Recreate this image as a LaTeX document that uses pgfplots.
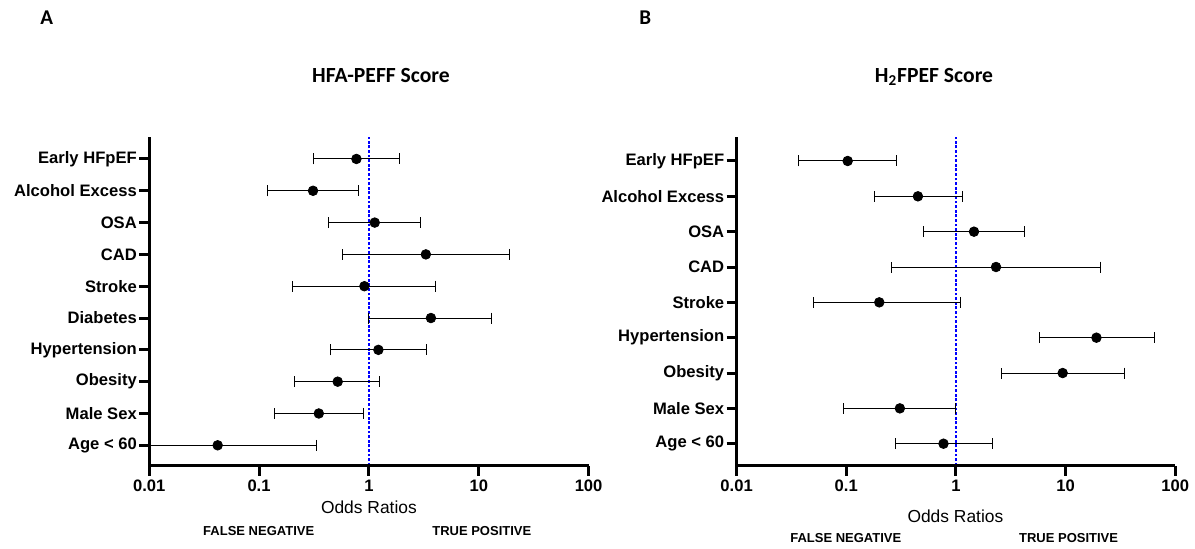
\documentclass[border=0pt]{standalone}
\usepackage{pgfplots}
\pgfplotsset{compat=1.18}
\usepackage{pgfplotstable}
\usepackage{fontspec}
\setmainfont{Liberation Sans}
\newfontfamily\calibri{Carlito}

% odds ratio with 95% CI, rows numbered from the bottom
\pgfplotstableread{
pos or    lo     hi
10  0.77  0.31   1.90
9   0.31  0.12   0.81
8   1.13  0.43   2.93
7   3.30  0.57   19.1
6   0.91  0.20   4.07
5   3.67  1.00   13.2
4   1.22  0.45   3.33
3   0.52  0.21   1.26
2   0.35  0.138  0.90
1   0.042 0.01   0.33
}\hfapeff

\pgfplotstableread{
pos or    lo     hi
9   0.103 0.0367 0.29
8   0.45  0.18   1.15
7   1.46  0.51   4.26
6   2.32  0.256  21.0
5   0.20  0.050  1.10
4   19.1  5.75   64.3
3   9.4   2.58   34.7
2   0.308 0.094  1.00
1   0.77  0.28   2.14
}\htwofpef

\pgfplotsset{
  orax/.style={
    anchor=south west, scale only axis, height=164.5pt,
    xmin=0.01, xmax=100,
    xtick={0.01,0.1,1,10,100}, xticklabels={0.01,0.1,1,10,100},
    xminorticks=false, yminorticks=false,
    axis x line*=bottom, axis y line*=left,
    axis line style={line width=1.5pt, -},
    tick align=outside, major tick length=5pt,
    every tick/.style={black, line width=1.5pt},
    ticklabel style={font=\fontsize{8.3}{10}\selectfont\bfseries},
    y tick label style={inner sep=1pt},
    x tick label style={inner sep=2pt},
    axis on top,
  },
  orplot/.style={
    black, only marks, mark=*, mark size=2.4pt,
    error bars/.cd, x dir=both, x explicit,
    error bar style={line width=0.5pt, black},
    error mark options={rotate=90, black, mark size=2.75pt, line width=0.5pt},
  },
  nullline/.style={blue, line width=1pt, dash pattern=on 1.4pt off 0.9pt},
}

\begin{document}
\begin{tikzpicture}
\useasboundingbox (0,0) rectangle (597.5pt,274.5pt);

\begin{semilogxaxis}[orax, at={(74.6pt,41.65pt)}, width=219.7pt,
  ymin=0.359, ymax=10.70, ytick={1,...,10},
  yticklabels={Age < 60, Male Sex, Obesity, Hypertension, Diabetes, Stroke, CAD, OSA, Alcohol Excess, Early HFpEF}]
  \addplot[nullline] coordinates {(1,0.359) (1,10.70)};
  \addplot[orplot] table[x=or, y=pos,
    x error plus expr=\thisrow{hi}-\thisrow{or},
    x error minus expr=\thisrow{or}-\thisrow{lo}] {\hfapeff};
\end{semilogxaxis}

\begin{semilogxaxis}[orax, at={(368.3pt,41.65pt)}, width=219.35pt,
  ymin=0.378, ymax=9.688, ytick={1,...,9},
  yticklabels={Age < 60, Male Sex, Obesity, Hypertension, Stroke, CAD, OSA, Alcohol Excess, Early HFpEF}]
  \addplot[nullline] coordinates {(1,0.378) (1,9.688)};
  \addplot[orplot] table[x=or, y=pos,
    x error plus expr=\thisrow{hi}-\thisrow{or},
    x error minus expr=\thisrow{or}-\thisrow{lo}] {\htwofpef};
\end{semilogxaxis}

% panel letters and titles
\node[anchor=base west, inner sep=0, font=\calibri\bfseries\fontsize{10.5}{12}\selectfont] at (20pt,262pt) {A};
\node[anchor=base west, inner sep=0, font=\calibri\bfseries\fontsize{10.5}{12}\selectfont] at (319.5pt,262pt) {B};
\node[anchor=base, inner sep=0, font=\calibri\bfseries\fontsize{10.8}{12}\selectfont] at (190.5pt,233.15pt) {HFA-PEFF Score};
\node[anchor=base, inner sep=0, font=\calibri\bfseries\fontsize{10.8}{12}\selectfont] at (467pt,233.15pt) {H\textsubscript{2}FPEF Score};

% axis captions
\node[anchor=base, inner sep=0, font=\fontsize{8.7}{10}\selectfont] at (184.45pt,17.5pt) {Odds Ratios};
\node[anchor=base, inner sep=0, font=\fontsize{8.7}{10}\selectfont] at (477.7pt,13.15pt) {Odds Ratios};
\node[anchor=base, inner sep=0, font=\bfseries\fontsize{6.5}{8}\selectfont] at (129.35pt,6.65pt) {FALSE NEGATIVE};
\node[anchor=base, inner sep=0, font=\bfseries\fontsize{6.5}{8}\selectfont] at (240.9pt,6.65pt) {TRUE POSITIVE};
\node[anchor=base, inner sep=0, font=\bfseries\fontsize{6.5}{8}\selectfont] at (422.9pt,3pt) {FALSE NEGATIVE};
\node[anchor=base, inner sep=0, font=\bfseries\fontsize{6.5}{8}\selectfont] at (534.3pt,3pt) {TRUE POSITIVE};
\end{tikzpicture}
\end{document}
